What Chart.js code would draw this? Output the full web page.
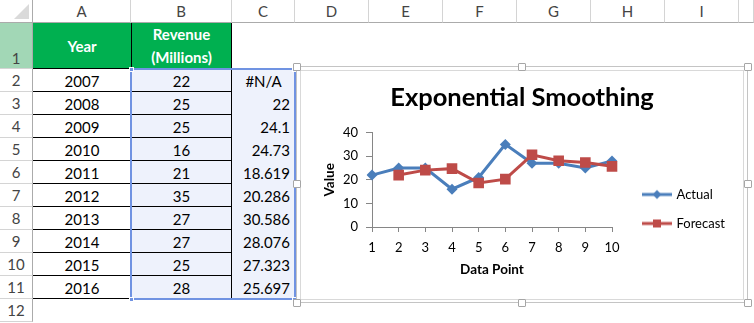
<!DOCTYPE html>
<html>
<head>
<meta charset="utf-8">
<script src="https://cdn.jsdelivr.net/npm/chart.js@4/dist/chart.umd.min.js"></script>
<style>
  body { margin: 0; width: 754px; height: 323px; overflow: hidden; background: #fff; font-family: Lato, 'Open Sans', sans-serif; }
  #sheet { position: absolute; left: 0; top: 0; width: 754px; height: 323px; }
  .c { position: absolute; box-sizing: border-box; white-space: nowrap; }
  #frameOuter { position: absolute; left: 296px; top: 66px; width: 452px; height: 237px; box-sizing: border-box; border: 1px solid #c4c4c4; background: #fff; }
  #frameInner { position: absolute; left: 300px; top: 70px; width: 444px; height: 230px; box-sizing: border-box; border: 1px solid #d9d9d9; background: #fff; }
  #chart { position: absolute; left: 301px; top: 71px; }
  .hd { position: absolute; width: 6px; height: 6px; background: #fff; border: 1px solid #a6a6a6; border-radius: 1px; }
</style>
</head>
<body>
<div id="sheet"></div>
<div id="frameOuter"></div>
<div id="frameInner"></div>
<canvas id="chart" width="442" height="228"></canvas>
<script>
// sheet data
const colLetters = ['A', 'B', 'C', 'D', 'E', 'F', 'G', 'H', 'I'];
const years = [2007, 2008, 2009, 2010, 2011, 2012, 2013, 2014, 2015, 2016];
const actual = [22, 25, 25, 16, 21, 35, 27, 27, 25, 28];
const forecast = [null, 22, 24.1, 24.73, 18.619, 20.286, 30.586, 28.076, 27.323, 25.697];
const dataPoints = ['1', '2', '3', '4', '5', '6', '7', '8', '9', '10'];
const yTicks = [0, 10, 20, 30, 40];

const FONT = 'Lato, "Open Sans", sans-serif';
const BLUE = '#4A7EBB';
const RED = '#BE4B48';

// ---- spreadsheet grid ----
const sheet = document.getElementById('sheet');
function box(x, y, w, h, css, html) {
  const d = document.createElement('div');
  d.className = 'c';
  Object.assign(d.style, { left: x + 'px', top: y + 'px', width: w + 'px', height: h + 'px' }, css || {});
  if (html != null) d.innerHTML = html;
  sheet.appendChild(d);
  return d;
}

const colX = [0, 33, 131, 232, 295, 369, 443, 517, 591, 665, 739, 754];
const rowTop = r => r === 1 ? 23 : 69 + (r - 2) * 23;
const rowH = r => r === 1 ? 46 : 23;

// column headers
const corner = box(0, 0, 33, 23, { borderRight: '1px solid #ababab', borderBottom: '1px solid #ababab' });
corner.innerHTML = '<div style="position:absolute;right:3px;bottom:3px;width:0;height:0;border-left:15px solid transparent;border-bottom:15px solid #dadada"></div>';
for (let i = 1; i < colX.length - 1; i++) {
  box(colX[i], 0, colX[i + 1] - colX[i], 23, {
    borderRight: '1px solid #d4d4d4', borderBottom: '1px solid #ababab',
    textAlign: 'center', lineHeight: '22px', fontSize: '15px', color: '#444'
  }, colLetters[i - 1] || '');
}

// row headers
for (let r = 1; r <= 12; r++) {
  box(0, rowTop(r), 33, rowH(r), {
    background: r === 1 ? '#a2d7b6' : '#fff',
    borderRight: '1px solid #ababab', borderBottom: '1px solid #d4d4d4',
    textAlign: 'center', fontSize: '15px', color: '#444',
    lineHeight: r === 1 ? '20px' : '23px', paddingTop: r === 1 ? '25px' : '0'
  }, String(r));
}

// data range highlight
box(131, 69, 165, 231, { background: '#eef2fc' });

// header cells
box(33, 23, 98, 46, { background: '#00B050', color: '#fff', fontWeight: 'bold', fontSize: '15px', textAlign: 'center', lineHeight: '46px' }, 'Year');
box(131, 23, 101, 46, { background: '#00B050', color: '#fff', fontWeight: 'bold', fontSize: '15px', textAlign: 'center', lineHeight: '23px' }, 'Revenue<br>(Millions)');

// values
years.forEach((yr, i) => {
  const y = rowTop(i + 2);
  box(33, y, 98, 23, { textAlign: 'center', lineHeight: '24px', fontSize: '15px', color: '#000' }, yr);
  box(131, y, 101, 23, { textAlign: 'center', lineHeight: '24px', fontSize: '15px', color: '#000' }, actual[i]);
  const f = forecast[i];
  box(232, y, 63, 23, { textAlign: f == null ? 'center' : 'right', paddingRight: f == null ? '0' : '5px', lineHeight: '24px', fontSize: '15px', color: '#000' }, f == null ? '#N/A' : f);
});

// table borders
for (let r = 1; r <= 11; r++) {
  box(33, rowTop(r) + rowH(r) - 1, 199, 1, { background: '#000' });
}
box(131, 23, 1, 277, { background: '#000' });
box(231, 23, 1, 277, { background: '#000' });

// selection outline + handles
box(130, 68, 166, 232, { border: '2px solid #7093e2' });
[[129, 67], [292, 67], [129, 297], [292, 297]].forEach(p => box(p[0], p[1], 5, 5, { background: '#7093e2', border: '1px solid #fff' }));

// chart frame handles
[[293, 63], [518, 63], [744, 63], [293, 180], [744, 180], [293, 299], [518, 299], [744, 299]].forEach(p => {
  const h = document.createElement('div');
  h.className = 'hd';
  h.style.left = p[0] + 'px';
  h.style.top = p[1] + 'px';
  document.body.appendChild(h);
});

// ---- chart ----
function legendIcon(color, shape) {
  const c = document.createElement('canvas');
  c.width = 46; c.height = 14;
  const g = c.getContext('2d');
  g.strokeStyle = color;
  g.fillStyle = color;
  g.lineWidth = 3;
  g.beginPath(); g.moveTo(16, 7); g.lineTo(46, 7); g.stroke();
  if (shape === 'diamond') {
    g.beginPath(); g.moveTo(31, 2.5); g.lineTo(35.5, 7); g.lineTo(31, 11.5); g.lineTo(26.5, 7); g.closePath(); g.fill();
  } else {
    g.fillRect(27, 3, 8, 8);
  }
  return c;
}
const icons = [legendIcon(BLUE, 'diamond'), legendIcon(RED, 'square')];

// fixed legend width, and legend sits a bit below the vertical middle like Excel's
const LEGEND_W = 131;
const LEGEND_SHIFT = 24;
const legendBox = {
  id: 'legendBox',
  beforeLayout(chart) {
    const lg = chart.legend;
    if (lg && !lg._fixedWidth) {
      const fit = lg.fit;
      lg.fit = function () { fit.call(this); this.width = LEGEND_W; };
      lg._fixedWidth = true;
    }
  },
  afterLayout(chart) {
    chart.legend.top += LEGEND_SHIFT;
    chart.legend.bottom += LEGEND_SHIFT;
  }
};

new Chart(document.getElementById('chart'), {
  type: 'line',
  data: {
    labels: dataPoints,
    datasets: [
      {
        label: 'Actual',
        data: actual,
        borderColor: BLUE,
        backgroundColor: BLUE,
        borderWidth: 3,
        pointStyle: 'rectRot',
        pointRadius: 5.5,
        pointBorderWidth: 0,
        tension: 0,
        order: 1
      },
      {
        label: 'Forecast',
        data: forecast,
        borderColor: RED,
        backgroundColor: RED,
        borderWidth: 3,
        pointStyle: 'rect',
        pointRadius: 7.5,
        pointBorderWidth: 0,
        tension: 0,
        order: 0
      }
    ]
  },
  options: {
    responsive: false,
    animation: false,
    layout: { padding: 0 },
    plugins: {
      title: {
        display: true,
        text: 'Exponential Smoothing',
        color: '#000',
        font: { family: FONT, size: 25.5, weight: 'bold' },
        padding: { top: 11, bottom: 20 }
      },
      legend: {
        position: 'right',
        labels: {
          usePointStyle: true,
          pointStyleWidth: 42,
          padding: 16,
          color: '#000',
          font: { family: FONT, size: 13 },
          generateLabels: chart => chart.data.datasets.map((ds, i) => ({
            text: ds.label,
            pointStyle: icons[i],
            fillStyle: ds.borderColor,
            strokeStyle: ds.borderColor,
            lineWidth: 0,
            hidden: false,
            datasetIndex: i
          }))
        }
      },
      tooltip: { enabled: false }
    },
    scales: {
      x: {
        offset: false,
        grid: { drawOnChartArea: false, tickLength: 5, color: '#868686' },
        border: { color: '#868686' },
        ticks: { color: '#000', padding: 8, autoSkip: false, maxRotation: 0, font: { family: FONT, size: 13 } },
        title: { display: true, text: 'Data Point', color: '#000', font: { family: FONT, size: 13.5, weight: 'bold' }, padding: { top: 0, bottom: 21 } },
        afterFit: s => { s.height = 72; }
      },
      y: {
        min: 0,
        max: 40,
        afterBuildTicks: s => { s.ticks = yTicks.map(v => ({ value: v })); },
        grid: { drawOnChartArea: false, tickLength: 6, color: '#868686' },
        border: { color: '#868686' },
        ticks: { color: '#000', padding: 8, font: { family: FONT, size: 13 } },
        title: { display: true, text: 'Value', color: '#000', font: { family: FONT, size: 13.5, weight: 'bold' }, padding: { top: 21, bottom: 0 } },
        afterFit: s => { s.width = 71; }
      }
    }
  },
  plugins: [legendBox]
});
</script>
</body>
</html>
